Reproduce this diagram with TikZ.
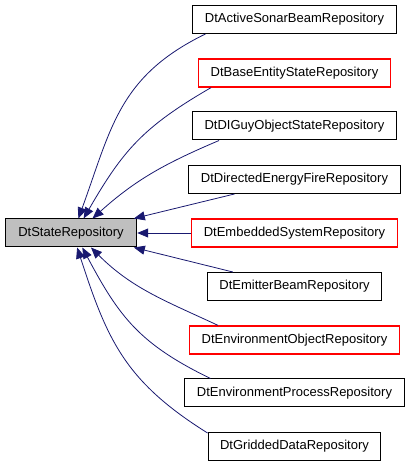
\documentclass[tikz,border=0pt]{standalone}
\usepackage{fontspec}
\setmainfont{Liberation Sans}
\usetikzlibrary{arrows.meta}

\definecolor{edgeblue}{HTML}{191970}
\definecolor{basegray}{HTML}{BFBFBF}
\definecolor{boxred}{HTML}{FF0000}

\tikzset{
  repo/.style={draw=black, line width=1pt, minimum height=28pt, inner xsep=12pt,
    font=\fontsize{13}{15}\selectfont},
  redrepo/.style={repo, draw=boxred, line width=1.2pt},
  baserepo/.style={repo, fill=basegray, inner xsep=13pt},
  inherit/.style={draw=edgeblue, line width=0.8pt, -{Triangle[length=11pt,width=9pt]}}
}

\begin{document}
\begin{tikzpicture}[x=1pt,y=1pt]
            \useasboundingbox (0,0) rectangle (411,467);

            % Base class node
            \node[baserepo] (state) at (71,234) {DtStateRepository};

            % Derived class nodes
            \node[repo] (b1) at (294.5,447.5) {DtActiveSonarBeamRepository};
            \node[redrepo] (b2) at (294.5,394) {DtBaseEntityStateRepository};
            \node[repo] (b3) at (294.5,341) {DtDIGuyObjectStateRepository};
            \node[repo] (b4) at (294.5,287.5) {DtDirectedEnergyFireRepository};
            \node[redrepo] (b5) at (294.5,234) {DtEmbeddedSystemRepository};
            \node[repo] (b6) at (294.5,180.5) {DtEmitterBeamRepository};
            \node[repo, draw=boxred, line width=1.2pt] (b7) at (294.5,127) {DtEnvironmentObjectRepository};
            \node[repo] (b8) at (294.5,74) {DtEnvironmentProcessRepository};
            \node[repo] (b9) at (294.5,20.5) {DtGriddedDataRepository};

            % Inheritance edges above
            \draw[inherit] ([xshift=13pt]b1.south west) to[out=206,in=70,looseness=1.1] (state.63);
            \draw[inherit] ([xshift=13pt]b2.south west) to[out=210,in=60,looseness=1.1] (state.49);
            \draw[inherit] ([xshift=27pt]b3.south west) to[out=203,in=42] (state.34);
            \draw[inherit] ([xshift=46pt]b4.south west) -- (state.13);

            % Straight edge
            \draw[inherit] (b5) -- (state);

            % Inheritance edges below
            \draw[inherit] ([xshift=26pt]b6.north west) -- (state.-13);
            \draw[inherit] ([xshift=29pt]b7.north west) to[out=155,in=-45] (state.-36);
            \draw[inherit] ([xshift=26pt]b8.north west) to[out=154,in=-62,looseness=1.1] (state.-52);
            \draw[inherit] ([yshift=-1pt]b9.north west) to[out=148,in=-72,looseness=1.1] (state.-67);
\end{tikzpicture}
\end{document}
